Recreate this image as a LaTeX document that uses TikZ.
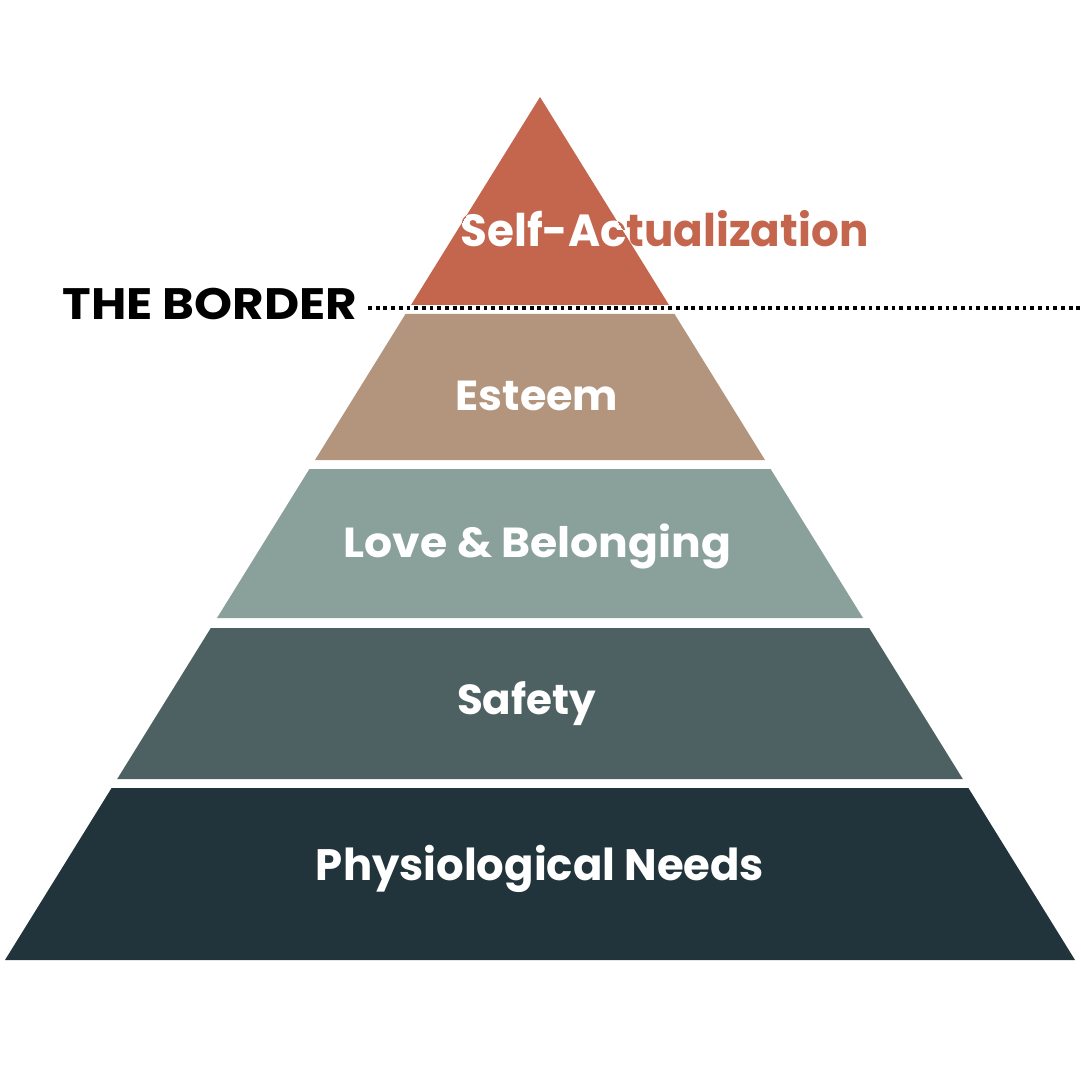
\documentclass[tikz,border=0pt]{standalone}
\usepackage{fontspec}
\setmainfont{Poppins}
\definecolor{cSelf}{HTML}{C4654D}
\definecolor{cEsteem}{HTML}{B3957E}
\definecolor{cLove}{HTML}{8AA09A}
\definecolor{cSafety}{HTML}{4D6163}
\definecolor{cPhys}{HTML}{22343B}
\tikzset{
  layer/.style={draw=none},
  lab/.style={text=white, font=\bfseries\fontsize{21pt}{24pt}\selectfont, inner sep=0pt, anchor=base},
}
\begin{document}
\begin{tikzpicture}[x=0.5pt,y=-0.5pt]
\useasboundingbox (0,0) rectangle (1080,1080);
\fill[white] (0,0) rectangle (1080,1080);
% layers
\fill[layer, cSelf] (540,97) -- (669,305) -- (411,305) -- cycle;
\fill[layer, cEsteem] (405.5,314) -- (674.5,314) -- (765,460) -- (315,460) -- cycle;
\fill[layer, cLove] (309.4,469) -- (770.6,469) -- (863,618) -- (217,618) -- cycle;
\fill[layer, cSafety] (210.8,628) -- (869.2,628) -- (962.8,779) -- (117.2,779) -- cycle;
\fill[layer, cPhys] (111.6,788) -- (968.4,788) -- (1075,960) -- (5,960) -- cycle;
% self-actualization: orange outside, white inside triangle
\node[lab, text=cSelf, font=\bfseries\fontsize{22.5pt}{26pt}\selectfont] (self) at (664.5,247) {\scalebox{0.97}[1]{Self-Actualization}};
\begin{scope}
\clip (540,97) -- (669,305) -- (411,305) -- cycle;
\node[lab, font=\bfseries\fontsize{22.5pt}{26pt}\selectfont] (selfw) at (664.5,247) {\scalebox{0.97}[1]{Self-Actualization}};
\end{scope}
\node[lab] (esteem) at (537,410) {\scalebox{1.02}[1]{Esteem}};
\node[lab] (love) at (537.5,557) {\scalebox{1.05}[1]{Love \& Belonging}};
\node[lab] (safety) at (526.5,714) {Safety};
\node[lab, font=\bfseries\fontsize{22pt}{25pt}\selectfont] (phys) at (540,880) {\scalebox{0.985}[1]{Physiological Needs}};
\node[lab, text=black, font=\bfseries\fontsize{22pt}{25pt}\selectfont, anchor=base west] (border) at (62,320) {\scalebox{1.1}[1]{THE BORDER}};
\coordinate (lineA) at (368,308);
\coordinate (lineB) at (1080,308);
\draw[line width=1.9pt, dash pattern=on 1.9pt off 1.95pt] (lineA) -- (lineB);
\end{tikzpicture}
\end{document}
